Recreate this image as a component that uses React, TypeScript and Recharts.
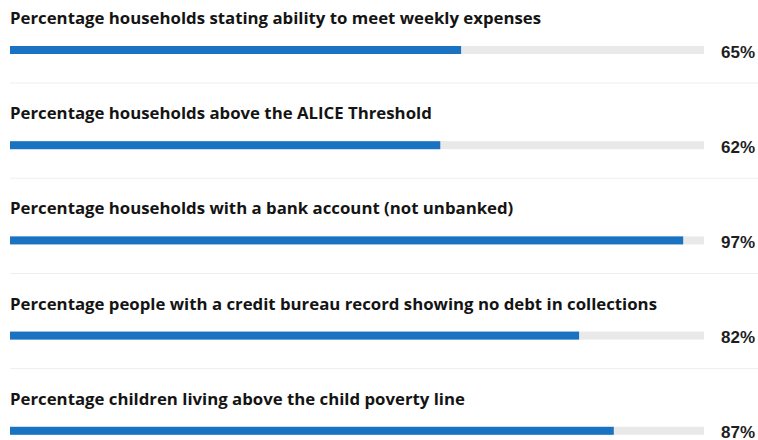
import React from 'react';
import { BarChart, Bar, XAxis, YAxis } from 'recharts';

const labels = [
  'Percentage households stating ability to meet weekly expenses',
  'Percentage households above the ALICE Threshold',
  'Percentage households with a bank account (not unbanked)',
  'Percentage people with a credit bureau record showing no debt in collections',
  'Percentage children living above the child poverty line',
];
const values = [65, 62, 97, 82, 87];

const data = labels.map((label, i) => ({ label, value: values[i] }));

const BLUE = '#1a72c2';
const TRACK = '#e9e9e9';
const FONT = '"Open Sans", "Noto Sans", sans-serif';
const NUM_FONT = '"Liberation Sans", Arial, sans-serif';

function RowShape(props: any) {
  const { x, y, width, height, background, payload } = props;
  const bx = background?.x ?? x;
  const bw = background?.width ?? width;
  const cy = y + height / 2;
  return (
    <g>
      <text
        x={bx}
        y={cy - 26}
        fontFamily={FONT}
        fontSize={16.8}
        fontWeight={700}
        fill="#141414"
      >
        {payload.label}
      </text>
      <rect x={bx} y={y} width={bw} height={height} fill={TRACK} />
      <rect x={x} y={y} width={width} height={height} fill={BLUE} />
      <text
        x={755}
        y={cy + 7.5}
        textAnchor="end"
        fontFamily={NUM_FONT}
        fontSize={17}
        fontWeight={700}
        fill="#1e1e1e"
      >
        {payload.value}%
      </text>
      <line x1={bx} x2={758} y1={cy + 33} y2={cy + 33} stroke="#eeeeee" strokeWidth={1} />
    </g>
  );
}

export default function App() {
  return (
    <div style={{ position: 'fixed', left: 0, top: 0, width: 758, height: 440, overflow: 'hidden', background: '#fff' }}>
      <BarChart
        width={758}
        height={478}
        data={data}
        layout="vertical"
        margin={{ top: 2, right: 54, bottom: 0, left: 10 }}
      >
        <XAxis type="number" domain={[0, 100]} hide />
        <YAxis type="category" dataKey="label" hide />
        <Bar
          dataKey="value"
          barSize={8}
          isAnimationActive={false}
          shape={<RowShape />}
          background={false}
        />
      </BarChart>
    </div>
  );
}
